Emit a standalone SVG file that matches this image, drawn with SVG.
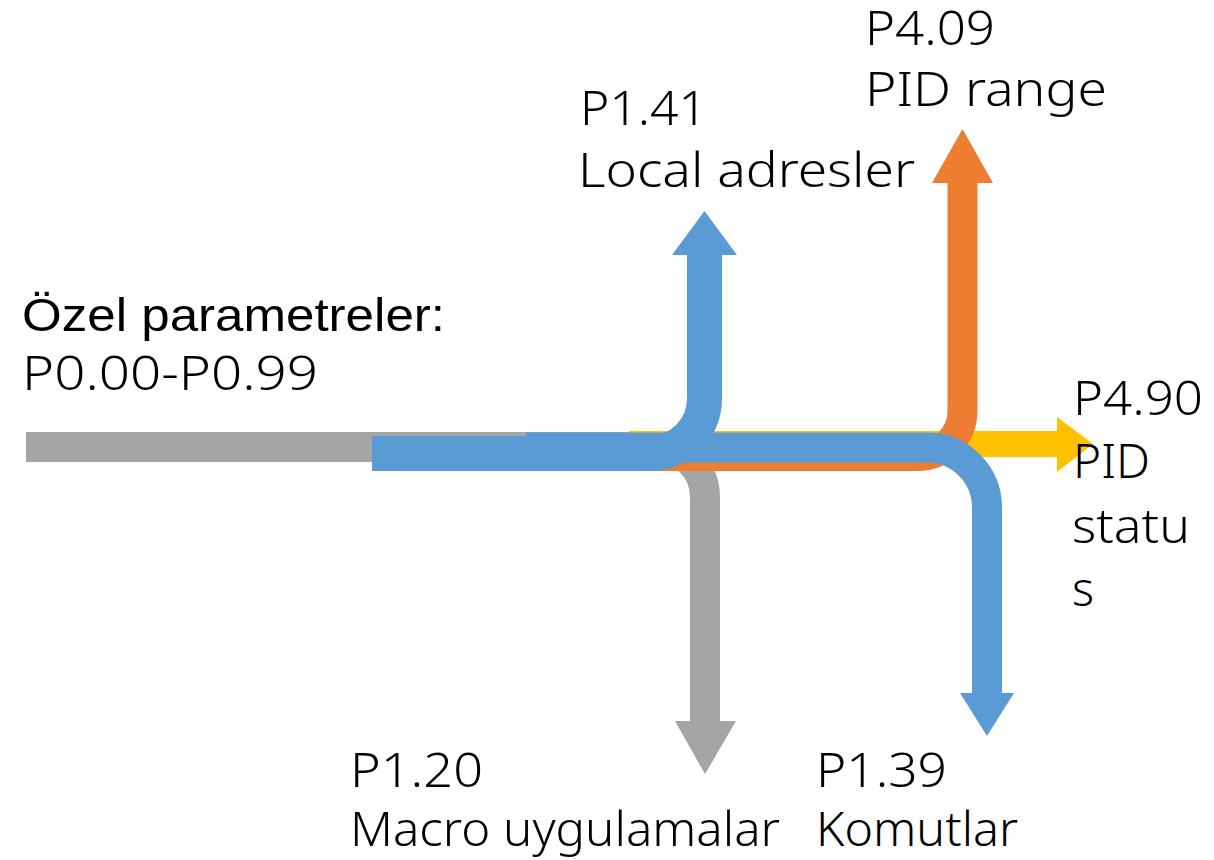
<svg xmlns="http://www.w3.org/2000/svg" width="1214" height="860" viewBox="0 0 1214 860">
<style>
.band{fill:none;stroke-linecap:butt;stroke-linejoin:round}
.t{font-family:"Noto Sans","Open Sans","DejaVu Sans",sans-serif;font-size:47px;font-weight:300;fill:#000}
.a{font-family:"Liberation Sans",Arial,sans-serif;font-size:47px;fill:#000}
</style>
<rect width="1214" height="860" fill="#fff"/>
<g id="connectors">
  <g id="grey-flow">
    <path class="band" d="M26,447 H655 A50,50 0 0 1 705,497 V722" stroke="#A5A5A5" stroke-width="30"/>
    <polygon points="675,721 736,721 705,774" fill="#A5A5A5"/>
  </g>
  <g id="yellow-flow">
    <path class="band" d="M629,444 H1058" stroke="#FFC000" stroke-width="26"/>
    <polygon points="1057,417 1057,472 1093,444" fill="#FFC000"/>
  </g>
  <g id="orange-flow">
    <path class="band" d="M630,456 H917.5 A45,45 0 0 0 962.5,411 V182" stroke="#ED7D31" stroke-width="30"/>
    <polygon points="932,183 993,183 962.5,129" fill="#ED7D31"/>
  </g>
  <g id="blue-up-flow">
    <path class="band" d="M372,453.5 H649.5 A55,55 0 0 0 704.5,398.5 V254" stroke="#5B9BD5" stroke-width="35"/>
    <polygon points="672,255 737,255 704.5,211" fill="#5B9BD5"/>
  </g>
  <g id="blue-down-flow">
    <path class="band" d="M526,447.5 H927 A60,60 0 0 1 987,507.5 V694" stroke="#5B9BD5" stroke-width="30"/>
    <polygon points="960,693 1014,693 987,736" fill="#5B9BD5"/>
  </g>
</g>
<g id="node-source">
  <text class="a" x="22" y="331" textLength="423" lengthAdjust="spacingAndGlyphs">Özel parametreler:</text>
  <text class="t" x="22" y="390" textLength="296" lengthAdjust="spacingAndGlyphs">P0.00-P0.99</text>
</g>
<g id="node-p141">
  <text class="t" x="580" y="125" textLength="127" lengthAdjust="spacingAndGlyphs">P1.41</text>
  <text class="t" x="578" y="187" textLength="337" lengthAdjust="spacingAndGlyphs">Local adresler</text>
</g>
<g id="node-p409">
  <text class="t" x="865" y="45" textLength="130" lengthAdjust="spacingAndGlyphs">P4.09</text>
  <text class="t" x="865" y="106" textLength="242" lengthAdjust="spacingAndGlyphs">PID range</text>
</g>
<g id="node-p490">
  <text class="t" x="1073" y="415" textLength="130" lengthAdjust="spacingAndGlyphs">P4.90</text>
  <text class="t" x="1073" y="478" textLength="77" lengthAdjust="spacingAndGlyphs">PID</text>
  <text class="t" x="1072" y="543" textLength="118" lengthAdjust="spacingAndGlyphs">statu</text>
  <text class="t" x="1072" y="606">s</text>
</g>
<g id="node-p120">
  <text class="t" x="350" y="787" textLength="133" lengthAdjust="spacingAndGlyphs">P1.20</text>
  <text class="t" x="350" y="846" textLength="430" lengthAdjust="spacingAndGlyphs">Macro uygulamalar</text>
</g>
<g id="node-p139">
  <text class="t" x="816" y="787" textLength="131" lengthAdjust="spacingAndGlyphs">P1.39</text>
  <text class="t" x="816" y="846" textLength="202" lengthAdjust="spacingAndGlyphs">Komutlar</text>
</g>
</svg>
